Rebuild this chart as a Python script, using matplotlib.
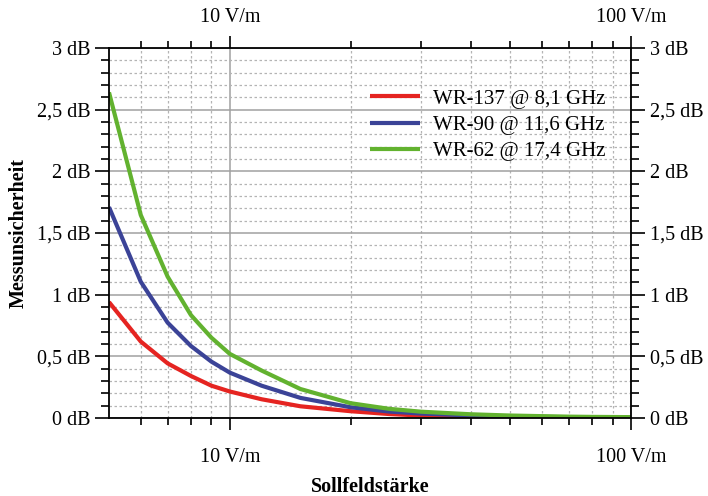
import matplotlib
matplotlib.use("Agg")
import matplotlib.pyplot as plt
from matplotlib.ticker import FixedLocator, NullFormatter, MultipleLocator, FuncFormatter

plt.rcParams["font.family"] = ["Liberation Serif", "DejaVu Serif"]

# field strength in V/m and uncertainty in dB
field = [5, 6, 7, 8, 9, 10, 12, 15, 20, 25, 30, 40, 50, 60, 70, 80, 90, 100]
wr137 = [0.94, 0.62, 0.443, 0.341, 0.262, 0.215, 0.152, 0.095, 0.055, 0.032, 0.02,
         0.011, 0.007, 0.005, 0.004, 0.003, 0.002, 0.002]
wr90 = [1.71, 1.105, 0.773, 0.584, 0.457, 0.368, 0.262, 0.163, 0.087, 0.052, 0.036,
        0.02, 0.013, 0.009, 0.007, 0.005, 0.004, 0.004]
wr62 = [2.64, 1.646, 1.146, 0.835, 0.651, 0.52, 0.385, 0.235, 0.12, 0.074, 0.051,
        0.03, 0.02, 0.015, 0.011, 0.009, 0.008, 0.007]
labels = ["WR-137 @ 8,1 GHz", "WR-90 @ 11,6 GHz", "WR-62 @ 17,4 GHz"]
colors = ["#e52421", "#3b4397", "#62b22f"]

major_x = [10, 100]
minor_x = [6, 7, 8, 9, 20, 30, 40, 50, 60, 70, 80, 90]

fig = plt.figure(figsize=(7.08, 4.96), dpi=100)
ax = fig.add_axes([109/708, 1 - 418/496, 522/708, 370/496])

for ys, lab, c in zip([wr137, wr90, wr62], labels, colors):
    ax.plot(field, ys, color=c, lw=3, label=lab, solid_capstyle="butt")

fmt_x = FuncFormatter(lambda v, p: f"{v:g} V/m")


def setup_x(a, pad):
    a.set_xscale("log")
    a.set_xlim(5, 100)
    a.xaxis.set_major_locator(FixedLocator(major_x))
    a.xaxis.set_minor_locator(FixedLocator(minor_x))
    a.xaxis.set_major_formatter(fmt_x)
    a.xaxis.set_minor_formatter(NullFormatter())
    a.tick_params(axis="x", which="both", direction="out", labelsize=14.5, width=1.2)
    a.tick_params(axis="x", which="major", length=8.6, pad=pad)
    a.tick_params(axis="x", which="minor", length=5)


setup_x(ax, 13)
ax.tick_params(axis="x", which="both", top=False)
ax.set_ylim(0, 3)

top = ax.twiny()
setup_x(top, 6.5)
for s in top.spines.values():
    s.set_visible(False)

ax.yaxis.set_major_locator(MultipleLocator(0.5))
ax.yaxis.set_minor_locator(MultipleLocator(0.1))
ax.yaxis.set_major_formatter(FuncFormatter(lambda v, p: f"{v:g} dB".replace(".", ",")))
ax.tick_params(axis="y", which="both", direction="out", right=True, labelright=True,
               labelsize=14.5, width=1.2)
ax.tick_params(axis="y", which="major", length=10, pad=3.5)
ax.tick_params(axis="y", which="minor", length=5.5)

ax.grid(which="major", color="#a0a0a0", lw=1.1, ls="-")
ax.grid(which="minor", color="#b4b4b4", lw=0.9, ls=(0, (2, 2)))
ax.set_axisbelow(True)
for s in ax.spines.values():
    s.set_linewidth(1.3)

ax.set_xlabel("Sollfeldstärke", fontsize=14.5, fontweight="bold", labelpad=7)
ax.set_ylabel("Messunsicherheit", fontsize=14.5, fontweight="bold", labelpad=6)

ax.legend(loc="upper left", bbox_to_anchor=(0.5, 0.889), frameon=False,
          fontsize=15, handlelength=2.4, handletextpad=0.62, labelspacing=0.32,
          borderpad=0, borderaxespad=0)

fig.savefig("out.png", dpi=100)
